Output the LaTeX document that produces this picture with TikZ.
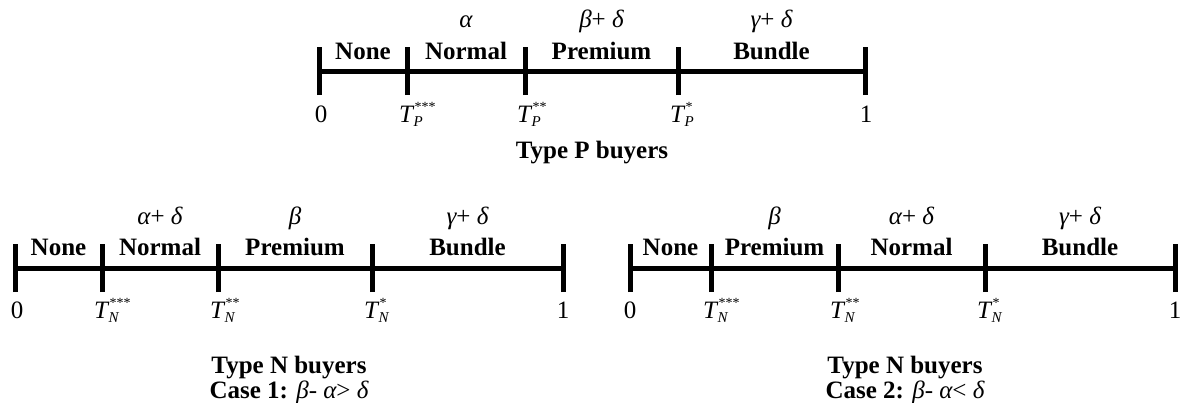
\documentclass[tikz,border=0pt]{standalone}
\usepackage{fontspec}
\setmainfont{Liberation Serif}
\newcommand{\tlab}[2]{{\itshape T}\kern0.5pt\rlap{\raisebox{-4pt}{\fontsize{15}{15}\selectfont\itshape #1}}\kern1pt\raisebox{11pt}{\fontsize{14}{14}\selectfont #2}}
\newcommand{\gk}[1]{{\itshape #1}}
\tikzset{
  axisline/.style={line width=5pt},
  tickline/.style={line width=5pt},
  word/.style={font=\fontsize{25}{28}\selectfont\bfseries, inner sep=0pt, anchor=base},
  greek/.style={font=\fontsize{25}{28}\selectfont, inner sep=0pt, anchor=base},
  num/.style={font=\fontsize{25}{28}\selectfont, inner sep=0pt, anchor=base},
  tnode/.style={font=\fontsize{25}{28}\selectfont, inner sep=0pt, anchor=base west},
  title/.style={font=\fontsize{25}{28}\selectfont\bfseries, inner sep=0pt, anchor=base},
}
\begin{document}
\begin{tikzpicture}[x=1pt,y=-1pt]
\useasboundingbox (0,0) rectangle (1184,402);
% ---------- Type P ----------
\coordinate (p0) at (319,71);
\coordinate (p1) at (407,71);
\coordinate (p2) at (525,71);
\coordinate (p3) at (678,71);
\coordinate (p4) at (865,71);
\draw[axisline] (p0) -- (p4);
\foreach \c in {p0,p1,p2,p3,p4}
  \draw[tickline] ([yshift=-24pt]\c) -- ([yshift=24pt]\c);
\node[word] (pw1) at (363,59) {None};
\node[word] (pw2) at (466,59) {Normal};
\node[word] (pw3) at (601.5,59) {Premium};
\node[word] (pw4) at (771.5,59) {Bundle};
\node[greek] (pg2) at (466,27) {\gk{α}};
\node[greek] (pg3) at (601.5,27) {\gk{β}+ \gk{δ}};
\node[greek] (pg4) at (771.5,27) {\gk{γ}+ \gk{δ}};
\node[num] (pn0) at (321,122) {0};
\node[tnode] (pt1) at (399,122) {\tlab{P}{***}};
\node[tnode] (pt2) at (517,122) {\tlab{P}{**}};
\node[tnode] (pt3) at (670,122) {\tlab{P}{*}};
\node[num] (pn4) at (866,122) {1};
\node[title] (ptitle) at (592,158) {Type P buyers};
% ---------- Type N, case 1 ----------
\coordinate (a0) at (15,268);
\coordinate (a1) at (102,268);
\coordinate (a2) at (218,268);
\coordinate (a3) at (372,268);
\coordinate (a4) at (563,268);
\draw[axisline] (a0) -- (a4);
\foreach \c in {a0,a1,a2,a3,a4}
  \draw[tickline] ([yshift=-24pt]\c) -- ([yshift=24pt]\c);
\node[word] (aw1) at (58.5,255) {None};
\node[word] (aw2) at (160,255) {Normal};
\node[word] (aw3) at (295,255) {Premium};
\node[word] (aw4) at (467.5,255) {Bundle};
\node[greek] (ag2) at (160,224) {\gk{α}+ \gk{δ}};
\node[greek] (ag3) at (295,224) {\gk{β}};
\node[greek] (ag4) at (467.5,224) {\gk{γ}+ \gk{δ}};
\node[num] (an0) at (17,318) {0};
\node[tnode] (at1) at (94,318) {\tlab{N}{***}};
\node[tnode] (at2) at (210,318) {\tlab{N}{**}};
\node[tnode] (at3) at (364,318) {\tlab{N}{*}};
\node[num] (an4) at (563,318) {1};
\node[title] (atitle) at (289,373) {Type N buyers};
\node[title] (acase) at (289,398) {Case 1: \mdseries\gk{β}- \gk{α}> \gk{δ}};
% ---------- Type N, case 2 ----------
\coordinate (b0) at (630,268);
\coordinate (b1) at (711,268);
\coordinate (b2) at (838,268);
\coordinate (b3) at (985,268);
\coordinate (b4) at (1175,268);
\draw[axisline] (b0) -- (b4);
\foreach \c in {b0,b1,b2,b3,b4}
  \draw[tickline] ([yshift=-24pt]\c) -- ([yshift=24pt]\c);
\node[word] (bw1) at (670.5,255) {None};
\node[word] (bw2) at (774.5,255) {Premium};
\node[word] (bw3) at (911.5,255) {Normal};
\node[word] (bw4) at (1080,255) {Bundle};
\node[greek] (bg2) at (774.5,224) {\gk{β}};
\node[greek] (bg3) at (911.5,224) {\gk{α}+ \gk{δ}};
\node[greek] (bg4) at (1080,224) {\gk{γ}+ \gk{δ}};
\node[num] (bn0) at (630,318) {0};
\node[tnode] (bt1) at (703,318) {\tlab{N}{***}};
\node[tnode] (bt2) at (830,318) {\tlab{N}{**}};
\node[tnode] (bt3) at (977,318) {\tlab{N}{*}};
\node[num] (bn4) at (1175,318) {1};
\node[title] (btitle) at (905,373) {Type N buyers};
\node[title] (bcase) at (905,398) {Case 2: \mdseries\gk{β}- \gk{α}< \gk{δ}};
\end{tikzpicture}
\end{document}
